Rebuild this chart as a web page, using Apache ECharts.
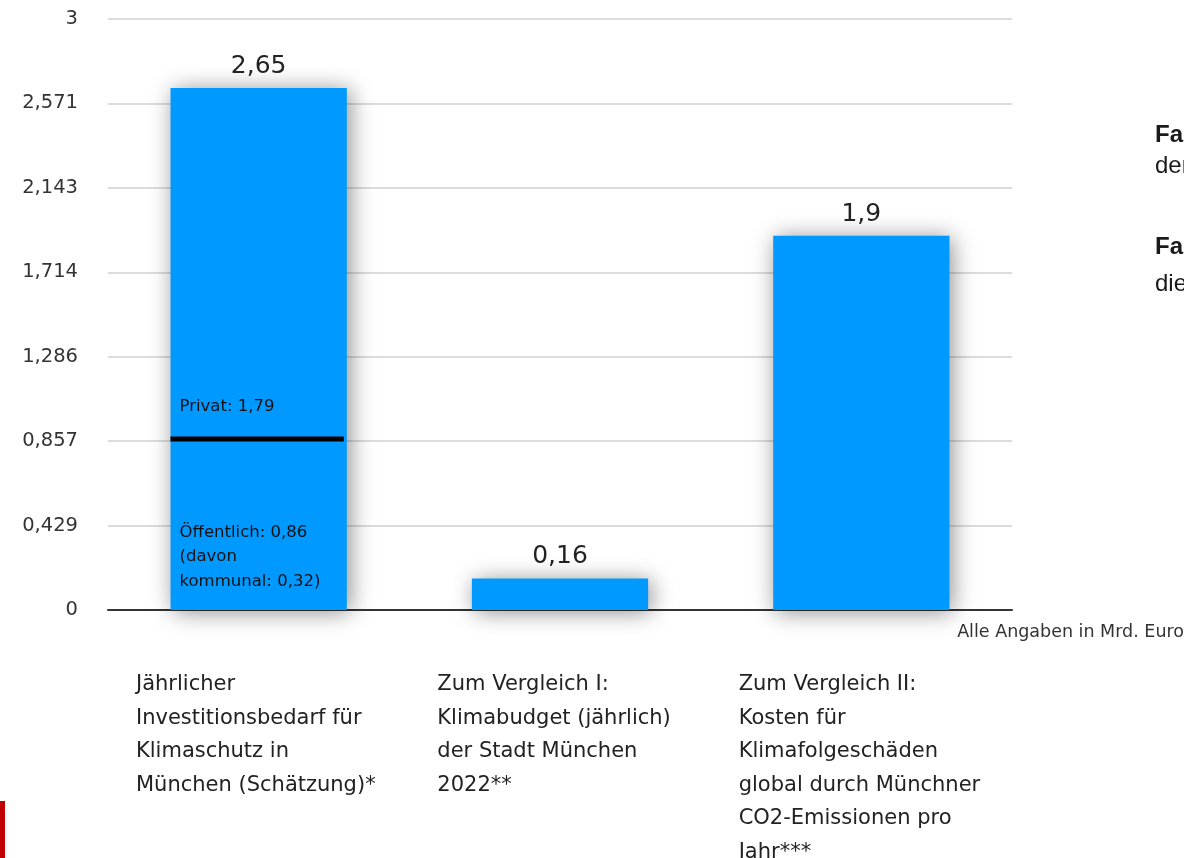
<!DOCTYPE html>
<html><head><meta charset="utf-8">
<script src="https://cdn.jsdelivr.net/npm/echarts@6/dist/echarts.min.js"></script>
<style>html,body{margin:0;padding:0;background:#fff;overflow:hidden}#c{width:1184px;height:858px}</style>
</head><body><div id="c"></div>
<script>
const categories = [
  'Jährlicher\nInvestitionsbedarf für\nKlimaschutz in\nMünchen (Schätzung)*',
  'Zum Vergleich I:\nKlimabudget (jährlich)\nder Stadt München\n2022**',
  'Zum Vergleich II:\nKosten für\nKlimafolgeschäden\nglobal durch Münchner\nCO2-Emissionen pro\nJahr***'
];
const values = [2.65, 0.16, 1.9];
const publicValue = 0.86;
const privateValue = 1.79;
const kommunalValue = 0.32;
const yTickLabels = ['0', '0,429', '0,857', '1,286', '1,714', '2,143', '2,571', '3'];
const yMax = 3;
const unitNote = 'Alle Angaben in Mrd. Euro';

const fmt = v => String(v).replace('.', ',');
const FONT = '"DejaVu Sans", "Open Sans", sans-serif';
const SIDE = '"Liberation Sans", sans-serif';
const BAR_RATIO = 0.585;

const chart = echarts.init(document.getElementById('c'), null, {renderer: 'canvas'});
chart.setOption({
  animation: false,
  backgroundColor: '#fff',
  textStyle: {fontFamily: FONT},
  grid: {left: 108, right: 172, top: 19, bottom: 248},
  xAxis: {
    type: 'category', data: categories,
    axisLine: {lineStyle: {color: '#333', width: 2}},
    axisTick: {show: false}, axisLabel: {show: false}
  },
  yAxis: {
    type: 'value', min: 0, max: yMax, interval: yMax / 7,
    axisLine: {show: false}, axisTick: {show: false},
    axisLabel: {margin: 30, fontSize: 19.5, color: '#333', fontFamily: FONT,
      formatter: (v, i) => yTickLabels[i]},
    splitLine: {lineStyle: {color: '#dcdcdc', width: 2}}
  },
  graphic: [
    {type: 'rect', shape: {x: 0, y: 801, width: 5, height: 57}, style: {fill: '#c00000'}},
    {type: 'text', x: 1155, y: 135, style: {text: 'Fazit 1:', font: 'bold 24px ' + SIDE, fill: '#1a1a1a', verticalAlign: 'middle'}},
    {type: 'text', x: 1155, y: 166, style: {text: 'der', font: '24px ' + SIDE, fill: '#1a1a1a', verticalAlign: 'middle'}},
    {type: 'text', x: 1155, y: 247, style: {text: 'Fazit 2:', font: 'bold 24px ' + SIDE, fill: '#1a1a1a', verticalAlign: 'middle'}},
    {type: 'text', x: 1155, y: 284, style: {text: 'die', font: '24px ' + SIDE, fill: '#1a1a1a', verticalAlign: 'middle'}},
    {type: 'text', right: 0, top: 623, style: {text: unitNote, font: '17.5px ' + FONT, fill: '#333'}}
  ],
  series: [
    {
      type: 'bar', data: values, barWidth: (BAR_RATIO * 100) + '%',
      itemStyle: {color: '#0099ff', shadowBlur: 22, shadowColor: 'rgba(0,0,0,0.45)', shadowOffsetX: 3, shadowOffsetY: 2},
      label: {show: true, position: 'top', distance: 9, fontSize: 25, color: '#222', fontFamily: FONT,
        formatter: p => fmt(p.value)}
    },
    {
      type: 'custom', z: 5, silent: true,
      data: [[0, publicValue]],
      renderItem: (params, api) => {
        const bw = api.size([1, 0])[0] * BAR_RATIO;
        const p = api.coord([api.value(0), api.value(1)]);
        const base = api.coord([api.value(0), 0]);
        const x0 = p[0] - bw / 2;
        return {type: 'group', children: [
          {type: 'rect', shape: {x: x0, y: p[1] - 4, width: bw - 3, height: 5}, style: {fill: '#000'}},
          {type: 'text', x: x0 + 9, y: p[1] - 34, style: {text: 'Privat: ' + fmt(privateValue), font: '16.5px ' + FONT, fill: '#111', verticalAlign: 'middle'}},
          {type: 'text', x: x0 + 9, y: base[1] - 90, style: {text: 'Öffentlich: ' + fmt(publicValue) + '\n(davon\nkommunal: ' + fmt(kommunalValue) + ')', font: '16.5px ' + FONT, lineHeight: 24.5, fill: '#111', verticalAlign: 'top'}}
        ]};
      }
    },
    {
      type: 'custom', silent: true, clip: false,
      data: categories.map((c, i) => [i, 0]),
      renderItem: (params, api) => {
        const bw = api.size([1, 0])[0];
        const p = api.coord([api.value(0), 0]);
        return {type: 'text', x: p[0] - bw / 2 + 28, y: p[1] + 58,
          style: {text: categories[params.dataIndex], font: '21px ' + FONT, lineHeight: 33.5, fill: '#222', verticalAlign: 'top'}};
      }
    }
  ]
});
</script></body></html>
